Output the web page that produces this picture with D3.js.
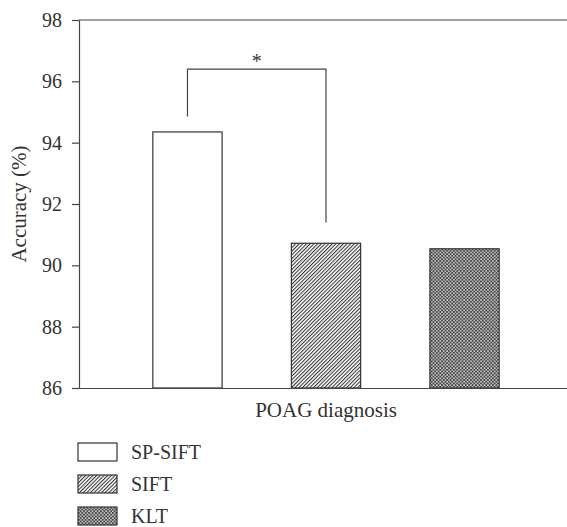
<!DOCTYPE html>
<html>
<head>
<meta charset="utf-8">
<script src="https://cdn.jsdelivr.net/npm/d3@7"></script>
<style>
  body { margin: 0; background: #fff; }
</style>
</head>
<body>
<div id="chart"></div>
<script>
// chart data
var groups = ["POAG diagnosis"];
var methods = ["SP-SIFT", "SIFT", "KLT"];
var accuracy = [94.35, 90.72, 90.54];
var yTicks = [86, 88, 90, 92, 94, 96, 98];
// significance bracket: from, to, top, left leg end, right leg end
var sigPair = ["SP-SIFT", "SIFT"];
var sigLevels = [96.4, 94.85, 91.4];
var sigLabel = "*";

var serif = "'Liberation Serif'";

var svgWidth = 567;
var svgHeight = 527;
var margin = { top: 20, left: 79 };
var plotBottom = 388;

var svg = d3.select("#chart")
  .append("svg")
  .attr("width", svgWidth)
  .attr("height", svgHeight)
  .style("font-family", serif);

// patterns for bars
var defs = svg.append("defs");
var hatch = defs.append("pattern")
  .attr("id", "hatch")
  .attr("patternUnits", "userSpaceOnUse")
  .attr("width", 2.6)
  .attr("height", 2.6)
  .attr("patternTransform", "rotate(45)");
hatch.append("rect").attr("width", 2.6).attr("height", 2.6).attr("fill", "#fff");
hatch.append("line")
  .attr("x1", 0.5).attr("y1", 0).attr("x2", 0.5).attr("y2", 2.6)
  .attr("stroke", "#333").attr("stroke-width", 1.1);

var check = defs.append("pattern")
  .attr("id", "check")
  .attr("patternUnits", "userSpaceOnUse")
  .attr("width", 3.4)
  .attr("height", 3.4);
check.append("rect").attr("width", 3.4).attr("height", 3.4).attr("fill", "#444");
check.append("rect").attr("x", 0.2).attr("y", 0.2).attr("width", 1.4).attr("height", 1.4).attr("fill", "#fff");
check.append("rect").attr("x", 1.9).attr("y", 1.9).attr("width", 1.4).attr("height", 1.4).attr("fill", "#eee");

var fills = { "SP-SIFT": "#fff", "SIFT": "url(#hatch)", "KLT": "url(#check)" };

// scales
var x0 = d3.scaleBand()
  .domain(groups)
  .range([margin.left, 573]);

var x1 = d3.scaleBand()
  .domain(methods)
  .range([0, x0.bandwidth()])
  .paddingInner(0.5)
  .paddingOuter(0.533);

var y = d3.scaleLinear()
  .domain([86, 98])
  .range([plotBottom, margin.top]);

// top frame line
svg.append("line")
  .attr("x1", margin.left).attr("x2", svgWidth)
  .attr("y1", y(98)).attr("y2", y(98))
  .attr("stroke", "#444").attr("stroke-width", 1.2);

// bars
var groupG = svg.selectAll(".group")
  .data(groups)
  .enter()
  .append("g")
  .attr("transform", d => `translate(${x0(d)},0)`);

groupG.selectAll("rect")
  .data(methods.map((m, i) => ({ method: m, value: accuracy[i] })))
  .enter()
  .append("rect")
  .attr("x", d => x1(d.method))
  .attr("y", d => y(d.value))
  .attr("width", x1.bandwidth())
  .attr("height", d => y(86) - y(d.value))
  .attr("fill", d => fills[d.method])
  .attr("stroke", "#333")
  .attr("stroke-width", 1.2);

// axes
var leftAxis = d3.axisLeft(y)
  .tickValues(yTicks)
  .tickSize(7)
  .tickSizeOuter(0)
  .tickPadding(10);

var yAxis = svg.append("g")
  .attr("transform", `translate(${margin.left},0)`)
  .call(leftAxis);
yAxis.selectAll("text")
  .style("font-family", serif)
  .style("font-size", "20px")
  .attr("fill", "#333");
yAxis.selectAll("line, path").attr("stroke", "#444").attr("stroke-width", 1.2);

var bottomAxis = d3.axisBottom(x0)
  .tickSize(0)
  .tickSizeOuter(0)
  .tickPadding(14);

var xAxis = svg.append("g")
  .attr("transform", `translate(0,${plotBottom})`)
  .call(bottomAxis);
xAxis.selectAll("text")
  .style("font-family", serif)
  .style("font-size", "21px")
  .attr("fill", "#333");
xAxis.selectAll("path").attr("stroke", "#444").attr("stroke-width", 1.2);

// y-axis title
svg.append("text")
  .attr("transform", "rotate(-90)")
  .attr("x", -(margin.top + plotBottom) / 2)
  .attr("y", 26)
  .attr("text-anchor", "middle")
  .attr("fill", "#333")
  .style("font-family", serif)
  .style("font-size", "21px")
  .text("Accuracy (%)");

// significance bracket
var bx1 = x0(groups[0]) + x1(sigPair[0]) + x1.bandwidth() / 2;
var bx2 = x0(groups[0]) + x1(sigPair[1]) + x1.bandwidth() / 2;
svg.append("path")
  .attr("d", `M${bx1},${y(sigLevels[1])}V${y(sigLevels[0])}H${bx2}V${y(sigLevels[2])}`)
  .attr("fill", "none")
  .attr("stroke", "#444")
  .attr("stroke-width", 1.2);

svg.append("text")
  .attr("x", (bx1 + bx2) / 2)
  .attr("y", y(sigLevels[0]) - 1)
  .attr("text-anchor", "middle")
  .attr("fill", "#333")
  .style("font-family", serif)
  .style("font-size", "20px")
  .text(sigLabel);

// legend
var legend = svg.selectAll(".legend")
  .data(methods)
  .enter()
  .append("g")
  .attr("transform", (d, i) => `translate(78,${443 + i * 32})`);

legend.append("rect")
  .attr("width", 39)
  .attr("height", 18)
  .attr("fill", d => fills[d])
  .attr("stroke", "#333")
  .attr("stroke-width", 1.2);

legend.append("text")
  .attr("x", 53)
  .attr("y", 9)
  .attr("dy", "0.35em")
  .attr("fill", "#333")
  .style("font-family", serif)
  .style("font-size", "20px")
  .text(d => d);
</script>
</body>
</html>
